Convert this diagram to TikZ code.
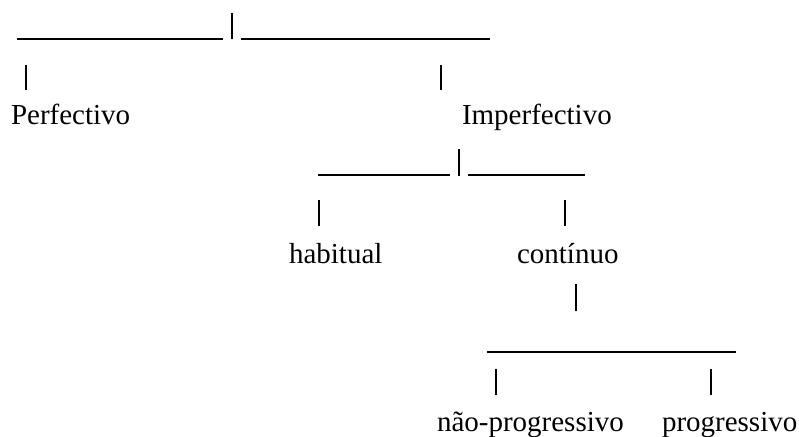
\documentclass[tikz,border=0pt]{standalone}
\usepackage{fontspec}
\setmainfont{Liberation Serif}
\begin{document}
\begin{tikzpicture}[x=1pt,y=-1pt,
  lbl/.style={anchor=base west,inner sep=0pt,outer sep=0pt,font=\fontsize{29}{34}\selectfont},
  bar/.style={line width=1.3pt},
  pipe/.style={line width=2pt}]
\useasboundingbox[fill=white] (0,0) rectangle (799,436);
% labels
\node[lbl] (perf)   at (11,124)  {Perfectivo};
\node[lbl] (imperf) at (462,124) {Imperfectivo};
\node[lbl] (hab)    at (289,263) {habitual};
\node[lbl] (cont)   at (517,263) {contínuo};
\node[lbl] (nprog)  at (437,431) {não-progressivo};
\node[lbl] (prog)   at (662,431) {progressivo};
% level 1
\coordinate (a1) at (17,39);  \coordinate (a2) at (223,39);
\coordinate (a3) at (241,39); \coordinate (a4) at (490,39);
\coordinate (ap1) at (232,13); \coordinate (ap2) at (232,39);
\coordinate (b1) at (26,65);  \coordinate (b2) at (26,90);
\coordinate (b3) at (441,65); \coordinate (b4) at (441,90);
\draw[bar] (a1) -- (a2);
\draw[bar] (a3) -- (a4);
\draw[pipe] (ap1) -- (ap2);
\draw[pipe] (b1) -- (b2);
\draw[pipe] (b3) -- (b4);
% level 2
\coordinate (c1) at (318,175); \coordinate (c2) at (450,175);
\coordinate (c3) at (468,175); \coordinate (c4) at (585,175);
\coordinate (cp1) at (459,149); \coordinate (cp2) at (459,176);
\coordinate (d1) at (319,200); \coordinate (d2) at (319,226);
\coordinate (d3) at (565,200); \coordinate (d4) at (565,226);
\draw[bar] (c1) -- (c2);
\draw[bar] (c3) -- (c4);
\draw[pipe] (cp1) -- (cp2);
\draw[pipe] (d1) -- (d2);
\draw[pipe] (d3) -- (d4);
% level 3
\coordinate (e1) at (576,284); \coordinate (e2) at (576,311);
\draw[pipe] (e1) -- (e2);
\coordinate (f1) at (487,352); \coordinate (f2) at (736,352);
\draw[bar] (f1) -- (f2);
\coordinate (g1) at (496,369); \coordinate (g2) at (496,395);
\coordinate (g3) at (711,369); \coordinate (g4) at (711,395);
\draw[pipe] (g1) -- (g2);
\draw[pipe] (g3) -- (g4);
\end{tikzpicture}
\end{document}
